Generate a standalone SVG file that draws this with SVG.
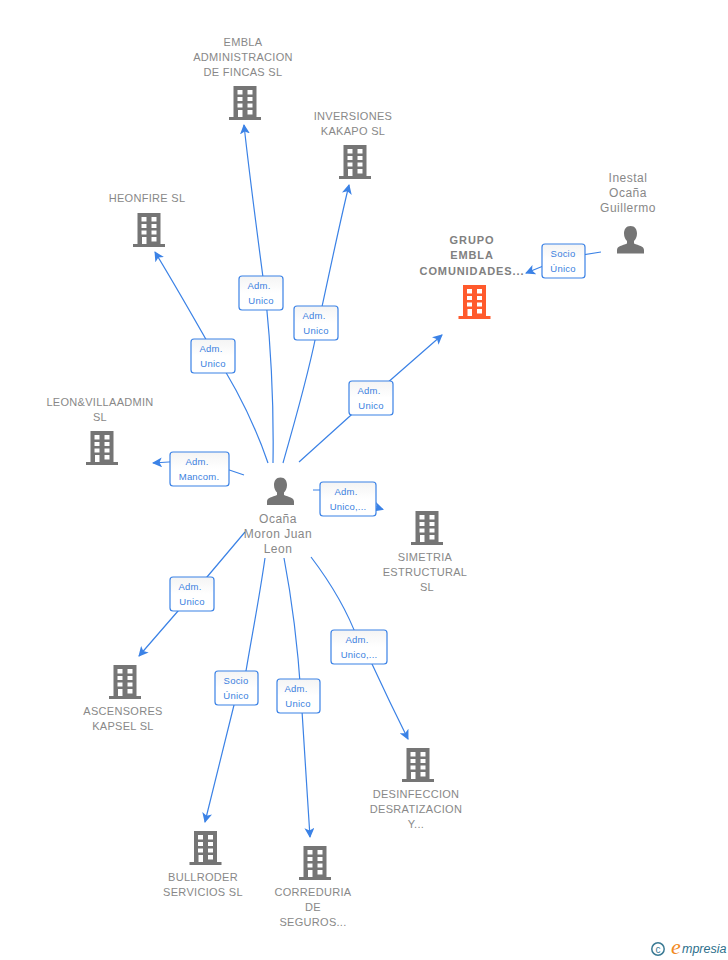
<svg xmlns="http://www.w3.org/2000/svg" xmlns:xlink="http://www.w3.org/1999/xlink" width="728" height="960" viewBox="0 0 728 960">
<style>
.t{font-family:"Liberation Sans",Arial,sans-serif;font-size:11px;fill:#888;text-anchor:middle;letter-spacing:.3px}
.b{font-weight:bold;fill:#808080;letter-spacing:.9px}
.p{font-size:12px;letter-spacing:.5px}
.l{font-family:"Liberation Sans",Arial,sans-serif;font-size:9.5px;fill:#3b7fe0;text-anchor:middle;letter-spacing:.2px}
.c{fill:none;stroke:#3b82e6;stroke-width:1.2}
.box{fill:url(#g);stroke:#3b82e6;stroke-width:1.2}
</style>
<defs>
<linearGradient id="g" x1="0" y1="0" x2="0" y2="1"><stop offset="0" stop-color="#f4f4f4"/><stop offset=".5" stop-color="#fff"/></linearGradient>
<marker id="a" markerWidth="11" markerHeight="10" refX="9" refY="5" orient="auto" markerUnits="userSpaceOnUse"><path d="M0 0L10 5L0 10L2.500 5Z" fill="#3b82e6"/></marker>
<symbol id="bld" overflow="visible"><path fill-rule="evenodd" d="M-11.500 0H11.500V31H16V34H-16V31H-11.500ZM-7.500 4V8.500H-2.500V4ZM2.500 4V8.500H7.500V4ZM-7.500 11V15H-2.500V11ZM2.500 11V15H7.500V11ZM-7.500 17.500V21.500H-2.500V17.500ZM2.500 17.500V21.500H7.500V17.500ZM-7 24V31H-2.500V24ZM2.500 24V28.500H7.500V24Z"/></symbol>
<symbol id="per" overflow="visible"><path d="M0 0C4.500 0 6.500 3.500 6.500 7.500C6.500 11 5 13.500 3.500 15V17.500C8 19.500 13.500 20 13.500 24V27.500H-13.500V24C-13.500 20 -8 19.500 -3.500 17.500V15C-5 13.500 -6.500 11 -6.500 7.500C-6.500 3.500 -4.500 0 0 0Z"/></symbol>
</defs>
<rect width="728" height="960" fill="#fff"/>
<g id="connectors">
<path class="c" marker-end="url(#a)" d="M273 463C274 400 270 340 266 300C258 240 250 180 244 125"/>
<path class="c" marker-end="url(#a)" d="M283 463C295 420 310 370 318 325C328 280 338 230 349 185"/>
<path class="c" marker-end="url(#a)" d="M268 463C255 425 235 385 212 350C195 320 175 285 155 252"/>
<path class="c" marker-end="url(#a)" d="M244 475L200 460L153 463"/>
<path class="c" marker-end="url(#a)" d="M299 462L370 398L442 335"/>
<path class="c" marker-end="url(#a)" d="M601 252L563 258L526 273"/>
<path class="c" marker-end="url(#a)" d="M313 490L348 490C360 498 372 506 383 509.500"/>
<path class="c" marker-end="url(#a)" d="M245 532L207 577L178 611L139 656"/>
<path class="c" marker-end="url(#a)" d="M265 558C259 600 252 635 246 671L234 705L205 822"/>
<path class="c" marker-end="url(#a)" d="M284 558C292 600 298 650 301 695C304 745 307 790 310 837"/>
<path class="c" marker-end="url(#a)" d="M311 557C330 582 347 610 358 640L372 664C384 690 396 715 408 739"/>
</g>
<g id="labels">
<g><rect class="box" x="239" y="276" width="44" height="34" rx="3"/><text class="l" x="259" y="289">Adm.</text><text class="l" x="261" y="304">Unico</text></g>
<g><rect class="box" x="294" y="306" width="44" height="34" rx="3"/><text class="l" x="314" y="319">Adm.</text><text class="l" x="316" y="334">Unico</text></g>
<g><rect class="box" x="191" y="339" width="44" height="34" rx="3"/><text class="l" x="211" y="352">Adm.</text><text class="l" x="213" y="367">Unico</text></g>
<g><rect class="box" x="349" y="381" width="44" height="34" rx="3"/><text class="l" x="369" y="394">Adm.</text><text class="l" x="371" y="409">Unico</text></g>
<g><rect class="box" x="170" y="452" width="59" height="34" rx="3"/><text class="l" x="197" y="465">Adm.</text><text class="l" x="199" y="480">Mancom.</text></g>
<g><rect class="box" x="320" y="482" width="56" height="34" rx="3"/><text class="l" x="346" y="495">Adm.</text><text class="l" x="348" y="510">Unico,...</text></g>
<g><rect class="box" x="542" y="244" width="43" height="34" rx="3"/><text class="l" x="563" y="257">Socio</text><text class="l" x="563" y="272">Único</text></g>
<g><rect class="box" x="170" y="577" width="44" height="34" rx="3"/><text class="l" x="190" y="590">Adm.</text><text class="l" x="192" y="605">Unico</text></g>
<g><rect class="box" x="215" y="671" width="43" height="34" rx="3"/><text class="l" x="236" y="684">Socio</text><text class="l" x="236" y="699">Único</text></g>
<g><rect class="box" x="277" y="679" width="43" height="34" rx="3"/><text class="l" x="296" y="692">Adm.</text><text class="l" x="298" y="707">Unico</text></g>
<g><rect class="box" x="331" y="630" width="56" height="34" rx="3"/><text class="l" x="357" y="643">Adm.</text><text class="l" x="359" y="658">Unico,...</text></g>
</g>
<g id="n-embla"><text class="t" x="243" y="46">EMBLA</text><text class="t" x="243" y="61">ADMINISTRACION</text><text class="t" x="243" y="76">DE FINCAS SL</text><use href="#bld" x="245" y="86" fill="#757575"/></g>
<g id="n-kakapo"><text class="t" x="353" y="120">INVERSIONES</text><text class="t" x="353" y="135">KAKAPO SL</text><use href="#bld" x="355" y="145" fill="#757575"/></g>
<g id="n-heonfire"><text class="t" x="147" y="202">HEONFIRE SL</text><use href="#bld" x="149" y="213" fill="#757575"/></g>
<g id="n-leon"><text class="t" x="100" y="406">LEON&amp;VILLAADMIN</text><text class="t" x="100" y="421">SL</text><use href="#bld" x="102" y="431" fill="#757575"/></g>
<g id="n-grupo"><text class="t b" x="472" y="244">GRUPO</text><text class="t b" x="472" y="259">EMBLA</text><text class="t b" x="472" y="275">COMUNIDADES...</text><use href="#bld" x="474.500" y="285" fill="#ff5a2c"/></g>
<g id="n-inestal"><text class="t p" x="628" y="182">Inestal</text><text class="t p" x="628" y="197">Ocaña</text><text class="t p" x="628" y="212">Guillermo</text><use href="#per" x="630.500" y="226" fill="#757575"/></g>
<g id="n-ocana"><use href="#per" x="280.500" y="477.500" fill="#757575"/><text class="t p" x="278" y="523">Ocaña</text><text class="t p" x="278" y="538">Moron Juan</text><text class="t p" x="278" y="553">Leon</text></g>
<g id="n-simetria"><use href="#bld" x="427" y="511" fill="#757575"/><text class="t" x="425" y="561">SIMETRIA</text><text class="t" x="425" y="576">ESTRUCTURAL</text><text class="t" x="427" y="591">SL</text></g>
<g id="n-ascensores"><use href="#bld" x="125" y="665" fill="#757575"/><text class="t" x="123" y="715">ASCENSORES</text><text class="t" x="123" y="730">KAPSEL SL</text></g>
<g id="n-bullroder"><use href="#bld" x="205.500" y="831" fill="#757575"/><text class="t" x="203" y="881">BULLRODER</text><text class="t" x="203" y="896">SERVICIOS SL</text></g>
<g id="n-correduria"><use href="#bld" x="315" y="846" fill="#757575"/><text class="t" x="313" y="896">CORREDURIA</text><text class="t" x="313" y="911">DE</text><text class="t" x="313" y="926">SEGUROS...</text></g>
<g id="n-desinfeccion"><use href="#bld" x="418" y="748" fill="#757575"/><text class="t" x="416" y="798">DESINFECCION</text><text class="t" x="416" y="813">DESRATIZACION</text><text class="t" x="416" y="828">Y...</text></g>
<g id="logo"><circle cx="658" cy="949" r="6.200" fill="none" stroke="#3a7a94" stroke-width="1.500"/><text x="658" y="952.500" font-family="Liberation Sans,sans-serif" font-size="10" fill="#3a7a94" text-anchor="middle">c</text><text x="671" y="954" font-family="Liberation Serif,serif" font-style="italic" font-size="22" fill="#f28a1e">e</text><text x="682" y="953" font-family="Liberation Sans,sans-serif" font-style="italic" font-size="12.500" fill="#2d6f8c">mpresia</text></g>
</svg>
